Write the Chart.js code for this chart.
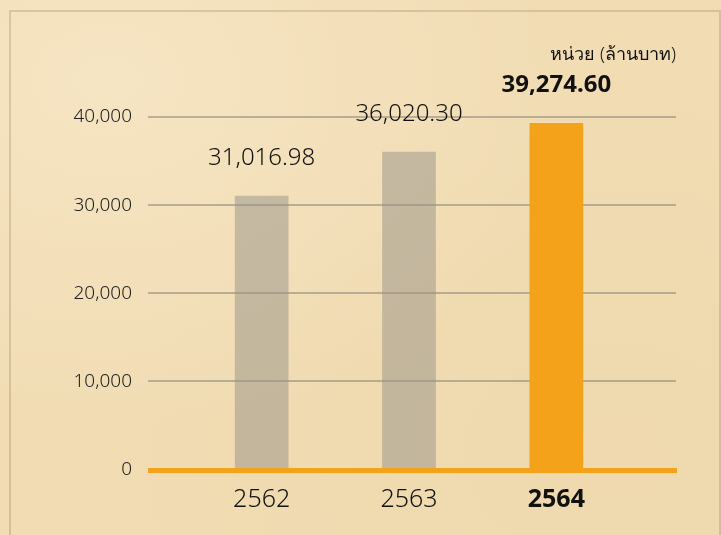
<!DOCTYPE html>
<html>
<head>
<meta charset="utf-8">
<script src="https://cdn.jsdelivr.net/npm/chart.js@4.4.1/dist/chart.umd.min.js"></script>
<style>
  html, body { margin: 0; padding: 0; }
  body {
    width: 721px; height: 535px; overflow: hidden; position: relative;
    background: #f1dcb3;
    background-image: radial-gradient(ellipse at 15% 15%, rgba(255,245,225,0.35), rgba(255,245,225,0) 55%),
                      radial-gradient(ellipse at 85% 85%, rgba(235,210,165,0.35), rgba(235,210,165,0) 60%);
  }
  #frame {
    position: absolute; left: 9px; top: 10px; width: 708px; height: 540px;
    border: 2px solid rgba(150,130,100,0.3);
  }
  #chartBox { position: absolute; left: 0; top: 0; width: 721px; height: 535px; }
</style>
</head>
<body>
<div id="frame"></div>
<div id="chartBox"><canvas id="revenueChart" width="721" height="535"></canvas></div>
<script>
// ข้อมูลของกราฟ
var years = ['2562', '2563', '2564'];
var revenue = [31016.98, 36020.30, 39274.60];
var valueLabels = ['31,016.98', '36,020.30', '39,274.60'];
var yTicks = [0, 10000, 20000, 30000, 40000];
var unitText = 'หน่วย (ล้านบาท)';

var fontFamily = '"Noto Sans", "DejaVu Sans", sans-serif';
var grayBar = 'rgba(150,145,135,0.5)';
var orange = '#f4a21a';

// เส้นกริดยาวเกินพื้นที่กราฟ + เส้นฐานสีส้ม
var gridPlugin = {
  id: 'gridPlugin',
  beforeDatasetsDraw: function(chart) {
    var ctx = chart.ctx;
    var y = chart.scales.y;
    ctx.save();
    ctx.strokeStyle = 'rgba(115,112,105,0.45)';
    ctx.lineWidth = 2;
    yTicks.forEach(function(v) {
      if (v === 0) return;
      var py = Math.round(y.getPixelForValue(v));
      ctx.beginPath();
      ctx.moveTo(148, py);
      ctx.lineTo(676, py);
      ctx.stroke();
    });
    ctx.restore();
  },
  afterDatasetsDraw: function(chart) {
    var ctx = chart.ctx;
    var y = chart.scales.y;
    var py = y.getPixelForValue(0) + 1;
    ctx.save();
    ctx.strokeStyle = orange;
    ctx.lineWidth = 5;
    ctx.beginPath();
    ctx.moveTo(148, py);
    ctx.lineTo(677, py);
    ctx.stroke();

    // ตัวเลขบนแท่ง
    var meta = chart.getDatasetMeta(0);
    ctx.fillStyle = '#111';
    ctx.textAlign = 'center';
    ctx.textBaseline = 'bottom';
    meta.data.forEach(function(bar, i) {
      var last = i === valueLabels.length - 1;
      ctx.font = (last ? 'bold ' : '300 ') + '24px ' + fontFamily;
      ctx.fillText(valueLabels[i], bar.x, bar.y - 26);
    });

    // หน่วย
    ctx.font = '300 18px ' + fontFamily;
    ctx.textAlign = 'right';
    ctx.textBaseline = 'middle';
    ctx.fillText(unitText, 676, 55);
    ctx.restore();
  }
};

var ctx = document.getElementById('revenueChart').getContext('2d');
var revenueChart = new Chart(ctx, {
  type: 'bar',
  data: {
    labels: years,
    datasets: [{
      data: revenue,
      backgroundColor: [grayBar, grayBar, orange],
      borderWidth: 0,
      barThickness: 53
    }]
  },
  options: {
    responsive: false,
    devicePixelRatio: 1,
    animation: false,
    layout: { padding: { left: 10, right: 91, top: 117, bottom: 0 } },
    plugins: {
      legend: { display: false },
      tooltip: { enabled: false }
    },
    scales: {
      x: {
        grid: { display: false, drawTicks: false },
        border: { display: false },
        ticks: {
          color: '#111',
          padding: 15,
          font: function(c) {
            return { family: fontFamily, size: 25, weight: c.index === 2 ? 'bold' : '300' };
          }
        },
        afterFit: function(scale) { scale.height = 50; }
      },
      y: {
        min: 0,
        max: 40000,
        grid: { display: false, drawTicks: false },
        border: { display: false },
        afterBuildTicks: function(scale) {
          scale.ticks = yTicks.map(function(v) { return { value: v }; });
        },
        ticks: {
          color: '#222',
          padding: 56,
          font: { family: fontFamily, size: 19, weight: '300', lineHeight: 1 },
          callback: function(v) { return Number(v).toLocaleString('en-US'); }
        },
        afterFit: function(scale) { scale.width = 178; }
      }
    }
  },
  plugins: [gridPlugin]
});
</script>
</body>
</html>
